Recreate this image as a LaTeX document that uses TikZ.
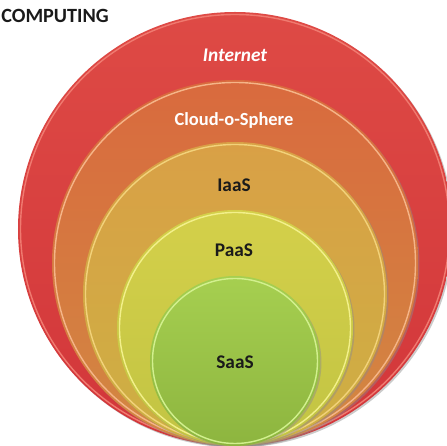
\documentclass[tikz,border=0pt]{standalone}
\usepackage{fontspec}
\setmainfont{Carlito}
\usepackage{tikz}
\definecolor{redTop}{HTML}{DE4A45}
\definecolor{redBot}{HTML}{D2363A}
\definecolor{redRim}{HTML}{F07A70}
\definecolor{orgTop}{HTML}{D96A3E}
\definecolor{orgBot}{HTML}{D28842}
\definecolor{orgRim}{HTML}{F5B588}
\definecolor{iaaTop}{HTML}{D9A046}
\definecolor{iaaBot}{HTML}{CDB043}
\definecolor{iaaRim}{HTML}{F2D27A}
\definecolor{paaTop}{HTML}{D4D04A}
\definecolor{paaBot}{HTML}{C2C443}
\definecolor{paaRim}{HTML}{F2F08A}
\definecolor{saaTop}{HTML}{A6CF50}
\definecolor{saaBot}{HTML}{8DB53F}
\definecolor{saaRim}{HTML}{D2F08E}
\definecolor{txtDark}{HTML}{1A1A1A}

\tikzset{
  lightlabel/.style={text=white, font=\fontsize{10.5}{12}\selectfont\bfseries},
  darklabel/.style={text=txtDark, font=\fontsize{11}{13}\selectfont\bfseries}
}

\begin{document}
\begin{tikzpicture}[x=0.02cm,y=0.02cm]
\useasboundingbox (-235,0) rectangle (212,446);
\clip (-235,0) rectangle (212,446);

% nested spheres, all touching at the bottom
\foreach \r/\ct/\cb/\cr in {217/redTop/redBot/redRim, 183/orgTop/orgBot/orgRim,
  152/iaaTop/iaaBot/iaaRim, 118/paaTop/paaBot/paaRim, 85/saaTop/saaBot/saaRim}
{
\fill[black!45,opacity=0.45] (1.5,\r-1.5) circle (\r);
\shade[top color=\ct, bottom color=\cb] (0,\r) circle (\r);
\draw[\cr, line width=0.8pt] (0,\r) circle (\r-2.5);
}

\node[lightlabel, font=\fontsize{11}{13}\selectfont\bfseries\itshape] (internet) at (0,391) {Internet};
\node[lightlabel] (cloud) at (-1,326) {Cloud-o-Sphere};
\node[darklabel] (iaas) at (-1,261) {IaaS};
\node[darklabel] (paas) at (-1,196) {PaaS};
\node[darklabel] (saas) at (0,84) {SaaS};
\node[anchor=west, inner xsep=0pt, text=txtDark, font=\fontsize{11.5}{13}\selectfont\bfseries] (title) at (-234,430) {COMPUTING};
\end{tikzpicture}
\end{document}
